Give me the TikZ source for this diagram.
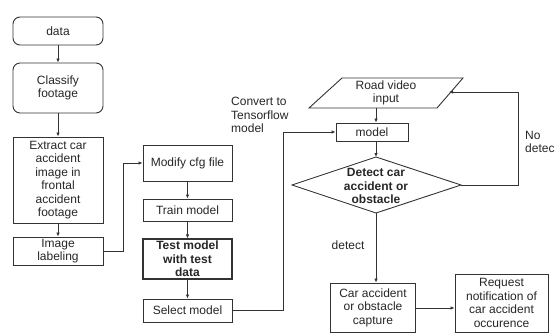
\documentclass[tikz,border=0pt]{standalone}
\usepackage{fontspec}
\setmainfont{Liberation Sans}
\usetikzlibrary{arrows.meta}
\begin{document}
\begin{tikzpicture}[x=1pt,y=-1pt,
  box/.style={draw=black!80, line width=0.9pt, align=center, inner sep=1pt, text=black!85,
    font=\fontsize{12}{13.5}\selectfont},
  rbox/.style={box, rounded corners=7pt},
  lbl/.style={inner sep=0pt, text=black!85, font=\fontsize{12}{13.5}\selectfont},
  arr/.style={-{Latex[length=4pt,width=3.5pt]}, draw=black!80, line width=0.9pt},
  ln/.style={draw=black!80, line width=0.9pt}]
\useasboundingbox (0,0) rectangle (556,334);
% left column
\node[rbox, minimum width=90pt, minimum height=28pt] (data) at (58,31) {data};
\node[rbox, minimum width=90pt, minimum height=50pt] (classify) at (58,88) {Classify\\footage};
\node[box, minimum width=90pt, minimum height=86pt] (extract) at (58,180) {Extract car\\accident\\image in\\frontal\\accident\\footage};
\node[box, minimum width=90pt, minimum height=28pt] (label) at (58,251) {Image\\labeling};
% middle column
\node[box, minimum width=89pt, minimum height=36pt] (modify) at (187.5,163) {Modify cfg file};
\node[box, minimum width=89pt, minimum height=22pt] (train) at (187.5,210) {Train model};
\node[box, line width=1.2pt, minimum width=89pt, minimum height=40pt, font=\fontsize{12}{13.5}\selectfont\bfseries] (test) at (187.5,259) {Test model\\with test\\data};
\node[box, minimum width=89pt, minimum height=23pt] (select) at (187.5,310.5) {Select model};
% right part
\draw[ln] (342,78) -- (463,78) -- (437,108) -- (309,108) -- cycle;
\node[lbl, align=center] (road) at (386,93) {Road video\\input};
\coordinate (roadB) at (376,108);
\coordinate (roadR) at (449,92);
\node[box, minimum width=72pt, minimum height=18pt] (model) at (372,132) {model};
\draw[ln] (376,157) -- (461,185) -- (376,213) -- (292,185) -- cycle;
\coordinate (dT) at (376,157);
\coordinate (dR) at (461,185);
\coordinate (dB) at (376,213);
\node[lbl, align=center, font=\fontsize{12}{13.5}\selectfont\bfseries] (detq) at (376,186) {Detect car\\accident or\\obstacle};
\node[box, minimum width=85pt, minimum height=49pt] (car) at (373,307.5) {Car accident\\or obstacle\\capture};
\node[box, minimum width=93pt, minimum height=58pt] (req) at (501.5,303) {Request\\notification of\\car accident\\occurence};
% labels
\node[lbl, align=left, anchor=west] (conv) at (231,115) {Convert to\\Tensorflow\\model};
\node[lbl] (det) at (348,245) {detect};
\node[lbl, align=left, anchor=west] (nodet) at (525,142) {No\\detec};
% connectors
\draw[arr] (data) -- (classify);
\draw[arr] (classify) -- (extract);
\draw[arr] (extract) -- (label);
\draw[arr] (label.east) -- ++(20,0) |- (modify.west);
\draw[arr] (modify) -- (train);
\draw[arr] (train) -- (test);
\draw[arr] (test) -- (select);
\draw[arr] (select.east) -- ++(51,0) |- (model.west);
\draw[arr] (roadB) -- (roadB |- model.north);
\draw[arr] (dT |- model.south) -- (dT);
\draw[arr] (dR) -- ++(57,0) |- (roadR);
\draw[arr] (dB) -- (dB |- car.north);
\draw[arr] (car.east |- 0,308) -- (req.west |- 0,308);
\end{tikzpicture}
\end{document}
